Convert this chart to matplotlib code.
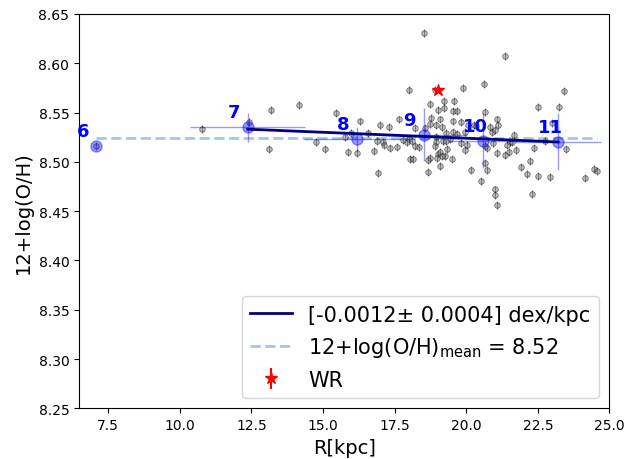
import numpy as np
import matplotlib.pyplot as plt

# HII regions: galactocentric radius [kpc] and 12+log(O/H)
R = [7.09, 10.78, 12.40, 13.18, 13.10, 14.15, 14.77, 15.07, 15.45, 15.75,
     15.86, 15.98, 16.18, 16.29, 16.58, 16.87, 16.78, 16.93, 17.00, 17.29,
     17.64, 18.53, 18.00, 18.91, 19.90, 20.62, 18.73, 19.24, 19.56, 19.01,
     19.23, 19.52, 19.67, 20.66, 18.76, 19.08, 21.34, 23.40, 22.50, 23.24,
     21.07, 18.22, 18.55, 18.73, 18.93, 19.14, 19.53, 19.82, 19.29, 19.53,
     19.69, 18.96, 19.43, 17.10, 17.12, 17.33, 17.57, 17.80, 17.94, 18.01,
     18.09, 18.21, 18.36, 18.96, 18.91, 19.33, 19.25, 19.02, 19.08, 19.17,
     18.98, 18.73, 18.67, 19.49, 18.03, 18.15, 19.10, 18.67, 20.15, 19.80,
     20.01, 19.95, 20.50, 20.82, 20.89, 21.00, 21.10, 21.66, 21.52, 21.61,
     21.43, 21.73, 21.50, 21.37, 21.06, 20.73, 20.65, 20.94, 22.36, 22.74,
     23.47, 22.99, 22.24, 20.65, 20.73, 21.90, 22.12, 22.52, 22.92, 21.02,
     20.99, 21.06, 22.28, 24.14, 24.45, 24.58, 19.95, 20.07, 20.27, 20.34,
     19.19, 19.31]
OH = [8.516, 8.533, 8.540, 8.553, 8.513, 8.558, 8.520, 8.513, 8.550, 8.5255,
      8.510, 8.529, 8.509, 8.541, 8.529, 8.521, 8.511, 8.489, 8.537, 8.535,
      8.543, 8.631, 8.573, 8.573, 8.575, 8.579, 8.559, 8.562, 8.562, 8.553,
      8.555, 8.552, 8.552, 8.551, 8.545, 8.543, 8.607, 8.572, 8.556, 8.556,
      8.543, 8.534, 8.534, 8.538, 8.537, 8.535, 8.541, 8.540, 8.529, 8.530,
      8.528, 8.525, 8.523, 8.520, 8.517, 8.514, 8.515, 8.522, 8.520, 8.523,
      8.521, 8.516, 8.515, 8.520, 8.516, 8.513, 8.506, 8.508, 8.510, 8.506,
      8.504, 8.504, 8.502, 8.503, 8.503, 8.503, 8.496, 8.490, 8.492, 8.519,
      8.517, 8.512, 8.481, 8.535, 8.530, 8.532, 8.537, 8.527, 8.520, 8.520,
      8.517, 8.512, 8.510, 8.507, 8.509, 8.514, 8.516, 8.519, 8.514, 8.521,
      8.513, 8.539, 8.501, 8.499, 8.492, 8.495, 8.488, 8.486, 8.485, 8.472,
      8.466, 8.456, 8.467, 8.484, 8.493, 8.491, 8.530, 8.537, 8.537, 8.536,
      8.521, 8.521]
OH_err = 0.004

# binned values
bins = [6, 7, 8, 9, 10, 11]
bin_R = [7.09, 12.37, 16.17, 18.51, 20.59, 23.21]
bin_OH = [8.516, 8.535, 8.523, 8.5276, 8.5215, 8.5205]
bin_Rerr = [0.0, 2.0, 1.85, 1.5, 1.2, 1.5]
bin_OHerr = [0.0, 0.0145, 0.012, 0.0266, 0.028, 0.0286]

# gradient fit and mean
slope, slope_err = -0.0012, 0.0004
intercept = 8.548
oh_mean = 8.524

# WR region
wr_R, wr_OH, wr_err = 19.02, 8.573, 0.003

fig = plt.figure(figsize=(6.28, 4.6), dpi=100)
ax = fig.add_axes([0.1258, 0.1102, 0.8447, 0.8572])

ax.errorbar(R, OH, yerr=OH_err, fmt='o', ms=4, mfc='gray', mec='black',
            mew=0.6, ecolor='black', elinewidth=0.8, alpha=0.5, zorder=2)

ax.errorbar(bin_R, bin_OH, xerr=bin_Rerr, yerr=bin_OHerr, fmt='o', ms=8,
            color='blue', alpha=0.4, elinewidth=1, zorder=3)
for b, x, y in zip(bins, bin_R, bin_OH):
    ax.annotate(str(b), (x, y), xytext=(-14.4, 10.8), textcoords='offset points',
                ha='left', va='center', color='blue', fontweight='bold', fontsize=13)

rfit = np.array([bin_R[1], bin_R[-1]])
ax.plot(rfit, intercept + slope * rfit, color='navy', lw=2, zorder=4,
        label=f'[{slope}± {slope_err}] dex/kpc')
ax.plot([min(R), max(R)], [oh_mean, oh_mean], '--', color='#a3c9e4', lw=2, zorder=1,
        label=r'12+log(O/H)$_{\rm mean}$ = %.2f' % oh_mean)
ax.errorbar(wr_R, wr_OH, yerr=wr_err, fmt='*', ms=9, color='red', zorder=5, label='WR')

ax.set_xlim(6.48, 25.0)
ax.set_ylim(8.25, 8.65)
ax.set_xticks(np.arange(7.5, 25.1, 2.5))
ax.set_xlabel('R[kpc]', fontsize=14)
ax.set_ylabel('12+log(O/H)', fontsize=14)
ax.legend(loc='lower right', fontsize=15)

fig.savefig('out.png', dpi=100)
plt.close()
